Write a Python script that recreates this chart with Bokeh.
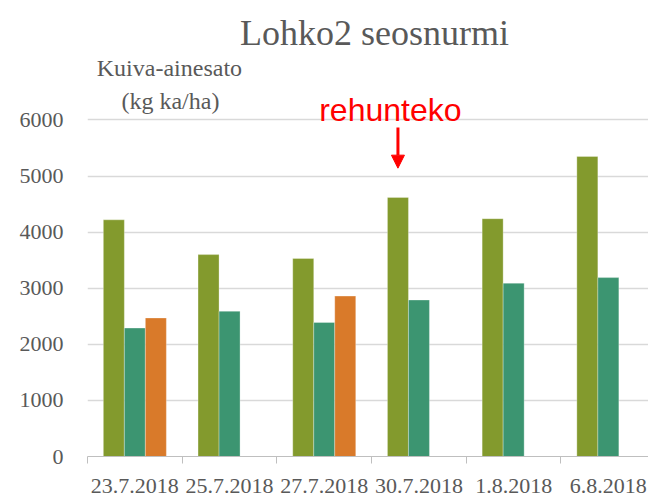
from bokeh.plotting import figure
from bokeh.models import Range1d, FixedTicker, Arrow, NormalHead
from bokeh.core.properties import value
from bokeh.embed import file_html
from bokeh.resources import INLINE

# ---- data ----
dates = ["23.7.2018", "25.7.2018", "27.7.2018", "30.7.2018", "1.8.2018", "6.8.2018"]
green = [4220, 3600, 3530, 4620, 4240, 5350]
teal = [2290, 2590, 2390, 2790, 3090, 3190]
orange = [2470, None, 2860, None, None, None]
y_ticks = [0, 1000, 2000, 3000, 4000, 5000, 6000]
title_text = "Lohko2 seosnurmi"
ylab1 = "Kuiva-ainesato"
ylab2 = "(kg ka/ha)"
note_text = "rehunteko"
note_index = 3  # 30.7.2018

GREEN = "#839A2D"
TEAL = "#3C9571"
ORANGE = "#D97A2A"
TXT = "#595959"
SERIF = "Liberation Serif"

n = len(dates)
centers = [i + 0.5 for i in range(n)]
bw = 0.2218

p = figure(frame_width=561, frame_height=448,
           min_border_left=87, min_border_right=0, min_border_top=8, min_border_bottom=41,
           x_range=Range1d(0, 5.924), y_range=Range1d(0, 7988),
           output_backend="svg", toolbar_location=None)
p.outline_line_color = None
p.background_fill_color = "white"
p.border_fill_color = "white"

bar_kw = dict(width=bw, line_color="white", line_width=0.6, line_alpha=0.5)
p.vbar(x=[c - bw for c in centers], top=green, fill_color=GREEN, **bar_kw)
p.vbar(x=centers, top=teal, fill_color=TEAL, **bar_kw)
ox = [c + bw for c, v in zip(centers, orange) if v is not None]
ov = [v for v in orange if v is not None]
p.vbar(x=ox, top=ov, fill_color=ORANGE, **bar_kw)

# x axis
xa = p.xaxis[0]
xa.ticker = FixedTicker(ticks=centers, minor_ticks=list(range(0, n + 1)))
xa.major_label_overrides = {c: d for c, d in zip(centers, dates)}
xa.major_tick_out = 0
xa.major_tick_in = 0
xa.minor_tick_out = 7
xa.minor_tick_in = 0
xa.minor_tick_line_color = "#BFBFBF"
xa.axis_line_color = "#BFBFBF"
xa.major_label_text_font = SERIF
xa.major_label_text_font_size = "22px"
xa.major_label_text_color = TXT
xa.major_label_standoff = 15
p.xgrid.grid_line_color = None

# y axis
ya = p.yaxis[0]
ya.ticker = FixedTicker(ticks=y_ticks)
ya.axis_line_color = None
ya.major_tick_line_color = None
ya.minor_tick_line_color = None
ya.major_label_text_font = SERIF
ya.major_label_text_font_size = "22px"
ya.major_label_text_color = TXT
ya.major_label_standoff = 18
p.ygrid.ticker = FixedTicker(ticks=y_ticks)
p.ygrid.grid_line_color = "#D9D9D9"
p.ygrid.grid_line_width = 1.3

# texts
p.text(x=[3.03], y=[7543], text=[title_text], text_font=value(SERIF), text_font_size="36px",
       text_color=TXT, text_align="center", text_baseline="alphabetic")
p.text(x=[0.865, 0.876], y=[6930, 6330], text=[ylab1, ylab2], text_font=value(SERIF),
       text_font_size="24px", text_color=TXT, text_align="center", text_baseline="alphabetic")
ax_x = centers[note_index] - bw
p.text(x=[ax_x - 0.08], y=[6170], text=[note_text], text_font=value("Liberation Sans"),
       text_font_size="32px", text_color="#FF0000", text_align="center",
       text_baseline="alphabetic")
p.add_layout(Arrow(end=NormalHead(size=13, fill_color="#FF0000", line_color="#FF0000"),
                   x_start=ax_x, y_start=5867, x_end=ax_x, y_end=5141,
                   line_color="#FF0000", line_width=3))

open("out.html", "w").write(file_html(p, INLINE))
